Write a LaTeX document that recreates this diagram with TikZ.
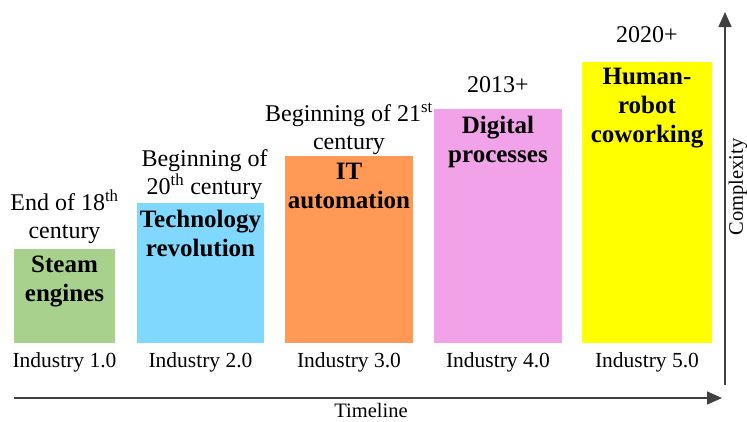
\documentclass[tikz,border=0pt]{standalone}
\usepackage{fontspec}
\setmainfont{Liberation Serif}
\usetikzlibrary{positioning,arrows.meta}
\definecolor{steamgreen}{HTML}{A9D18E}
\definecolor{techblue}{HTML}{80D8FF}
\definecolor{itorange}{HTML}{FF9955}
\definecolor{digipink}{HTML}{F2A2E8}
\definecolor{cobotyellow}{HTML}{FFFF00}
\begin{document}
\begin{tikzpicture}[x=1pt,y=-1pt,
    bar/.style={draw=none,inner sep=0,outer sep=0,anchor=south west},
    era/.style={inner sep=0,align=center,font=\fontsize{24}{28}\selectfont},
    what/.style={inner sep=0,align=center,font=\bfseries\fontsize{25}{29}\selectfont},
    ind/.style={inner sep=0,font=\fontsize{21.5}{26}\selectfont},
    axlabel/.style={inner sep=0,font=\fontsize{20.5}{25}\selectfont},
    axis/.style={draw=black!75,line width=1.5pt,-{Triangle[length=15pt,width=13pt]}}]
  \useasboundingbox (0,0) rectangle (747,421);
  % bars
  \node[bar,fill=steamgreen,minimum width=101pt,minimum height=94pt] (b1) at (14,343) {};
  \node[bar,fill=techblue,minimum width=127pt,minimum height=140pt] (b2) at (137,343) {};
  \node[bar,fill=itorange,minimum width=128pt,minimum height=187pt] (b3) at (285,343) {};
  \node[bar,fill=digipink,minimum width=128pt,minimum height=234pt] (b4) at (434,343) {};
  \node[bar,fill=cobotyellow,minimum width=130pt,minimum height=281pt] (b5) at (582,343) {};
  % eras
  \node[era,above=5pt of b1] (t1) {End of 18\textsuperscript{th}\\century};
  \node[era,above=3pt of b2,xshift=4pt] (t2) {Beginning of\\20\textsuperscript{th} century};
  \node[era,above=1pt of b3] (t3) {Beginning of 21\textsuperscript{st}\\century};
  \node[era,above=16pt of b4] (t4) {2013+};
  \node[era,above=19pt of b5] (t5) {2020+};
  % what happened
  \node[what,below=7pt of b1.north] (w1) {Steam\\engines};
  \node[what,below=7pt of b2.north] (w2) {Technology\\revolution};
  \node[what,below=7pt of b3.north] (w3) {IT\\automation};
  \node[what,below=7pt of b4.north] (w4) {Digital\\processes};
  \node[what,below=6pt of b5.north] (w5) {Human-\\robot\\coworking};
  % industry
  \node[ind,below=24pt of b1.south,anchor=base] (i1) {Industry 1.0};
  \node[ind,below=24pt of b2.south,anchor=base] (i2) {Industry 2.0};
  \node[ind,below=24pt of b3.south,anchor=base] (i3) {Industry 3.0};
  \node[ind,below=24pt of b4.south,anchor=base] (i4) {Industry 4.0};
  \node[ind,below=24pt of b5.south,anchor=base] (i5) {Industry 5.0};
  % axes
  \coordinate (time0) at (14,398);
  \coordinate (time1) at (722,398);
  \coordinate (cx0) at (725,385);
  \coordinate (cx1) at (725,12);
  \draw[axis] (time0) -- (time1);
  \draw[axis] (cx0) -- (cx1);
  \node[axlabel,anchor=base] (tl) at (371,417) {Timeline};
  \node[axlabel,rotate=90,anchor=north] (cl) at (728.5,187) {Complexity};
\end{tikzpicture}
\end{document}
